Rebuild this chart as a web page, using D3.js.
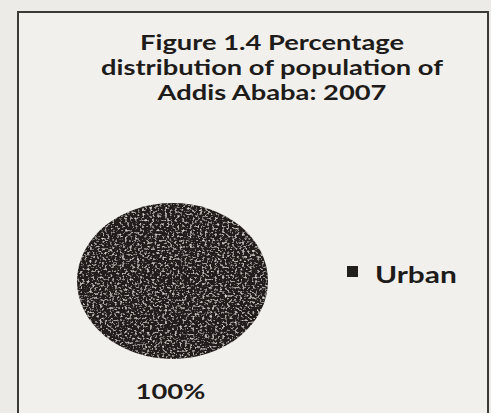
<!DOCTYPE html>
<html>
<head>
<meta charset="utf-8">
<script src="https://cdn.jsdelivr.net/npm/d3@7"></script>
<style>
  html, body { margin: 0; padding: 0; background: #edebe7; }
  svg { display: block; }
</style>
</head>
<body>
<svg id="chart" width="491" height="413"></svg>
<script>
const titleLines = ["Figure 1.4 Percentage", "distribution of population of", "Addis Ababa: 2007"];
const categories = ["Urban"];
const values = [100];
const labels = ["100%"];
const colors = ["#231f1c"];

const svg = d3.select("#chart");
const W = 491, H = 413;
const FONT = "Lato, 'Open Sans', sans-serif";
const SX = 1.3; // horizontal stretch of the scanned page

const defs = svg.append("defs");
const f = defs.append("filter").attr("id", "speck").attr("x", "0%").attr("y", "0%").attr("width", "100%").attr("height", "100%");
f.append("feTurbulence").attr("type", "fractalNoise").attr("baseFrequency", 0.4).attr("numOctaves", 2).attr("seed", 3).attr("result", "n");
f.append("feColorMatrix").attr("in", "n").attr("type", "matrix")
  .attr("values", "0 0 0 0 0.72  0 0 0 0 0.69  0 0 0 0 0.65  3.2 0 0 0 -1.7").attr("result", "s");
f.append("feComposite").attr("in", "s").attr("in2", "SourceGraphic").attr("operator", "in").attr("result", "sp");
const fm = f.append("feMerge");
fm.append("feMergeNode").attr("in", "SourceGraphic");
fm.append("feMergeNode").attr("in", "sp");

svg.append("rect").attr("x", 0).attr("y", 0).attr("width", W).attr("height", H).attr("fill", "#edebe7");

// chart box
svg.append("rect")
  .attr("x", 18).attr("y", 12).attr("width", 470).attr("height", 420)
  .attr("fill", "#f2f0ec").attr("stroke", "#3c3936").attr("stroke-width", 2);

// title
const tg = svg.append("g").attr("transform", `translate(272,0) scale(${SX},1)`);
const title = tg.append("text")
  .attr("text-anchor", "middle")
  .attr("font-family", FONT)
  .attr("font-weight", "bold")
  .attr("font-size", 21)
  .attr("fill", "#1e1c1a");
titleLines.forEach((t, i) => {
  title.append("tspan").attr("x", 0).attr("y", 50 + i * 25).text(t);
});

// pie
const pie = d3.pie().sort(null).value(d => d);
const rx = 95.5, ry = 78;
const arc = d3.arc().innerRadius(0).outerRadius(rx);
const cx = 172.5, cy = 281;
const g = svg.append("g").attr("transform", `translate(${cx},${cy}) scale(1,${ry / rx})`);
g.selectAll("path").data(pie(values)).join("path")
  .attr("d", arc)
  .attr("fill", (d, i) => colors[i])
  .attr("filter", "url(#speck)");

// data label
svg.selectAll("g.lbl").data(pie(values)).join("g")
  .attr("class", "lbl")
  .attr("transform", `translate(${cx - 2},399) scale(${SX},1)`)
  .append("text")
  .attr("text-anchor", "middle")
  .attr("font-family", FONT)
  .attr("font-weight", "bold")
  .attr("font-size", 21)
  .attr("fill", "#1e1c1a")
  .text((d, i) => labels[i]);

// legend
const leg = svg.append("g").attr("transform", "translate(347,266)");
categories.forEach((c, i) => {
  leg.append("rect").attr("x", 0).attr("y", i * 26).attr("width", 11).attr("height", 11).attr("fill", colors[i]);
  leg.append("g").attr("transform", `translate(28,${17 + i * 26}) scale(${SX},1)`)
    .append("text")
    .attr("font-family", FONT)
    .attr("font-weight", "bold")
    .attr("font-size", 23)
    .attr("fill", "#1e1c1a")
    .text(c);
});
</script>
</body>
</html>
